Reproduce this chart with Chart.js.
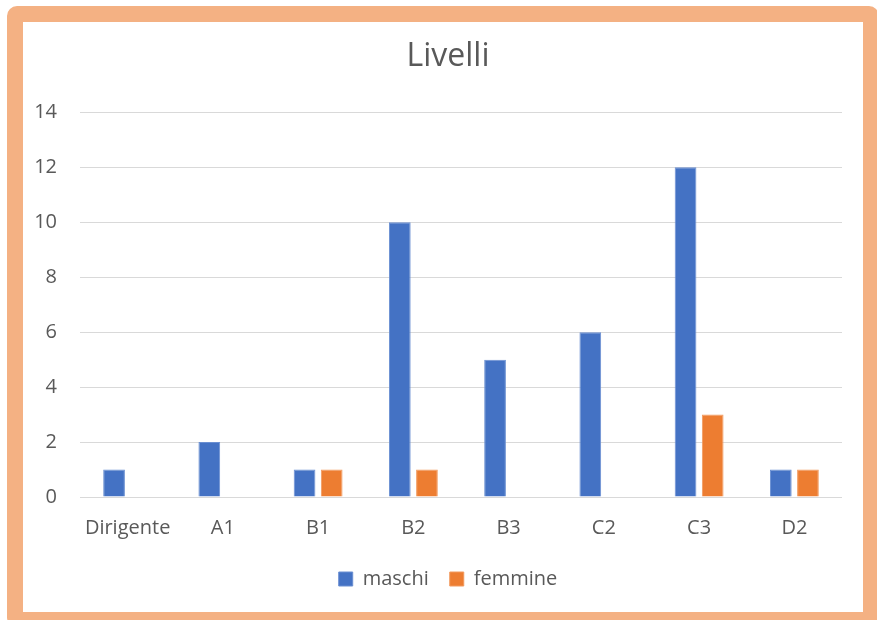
<!DOCTYPE html>
<html>
<head>
<meta charset="utf-8">
<script src="https://cdn.jsdelivr.net/npm/chart.js@4"></script>
<style>
	html, body { margin: 0; padding: 0; background: #fff; overflow: hidden; }
	#frame {
		position: absolute; left: 7px; top: 6px;
		width: 840px; height: 590px;
		border: 16px solid #F4B183; border-radius: 10px;
		background: #fff;
	}
	#frame canvas { display: block; }
</style>
</head>
<body>
<div id="frame"><canvas id="livelliChart" width="840" height="590"></canvas></div>
<script>
var categories = ['Dirigente', 'A1', 'B1', 'B2', 'B3', 'C2', 'C3', 'D2'];
var maschi = [1, 2, 1, 10, 5, 6, 12, 1];
var femmine = [0, 0, 1, 1, 0, 0, 3, 1];
var yTicks = [0, 2, 4, 6, 8, 10, 12, 14];

var textColor = '#595959',
	gridColor = '#D9D9D9',
	font = 'Open Sans';

var ctx = document.getElementById('livelliChart').getContext('2d');

new Chart(ctx, {
	type: 'bar',
	data: {
		labels: categories,
		datasets: [{
			label: 'maschi',
			data: maschi,
			backgroundColor: '#4472C4',
			borderColor: '#6A8FD2',
			borderWidth: 1,
			barPercentage: 0.8,
			categoryPercentage: 0.57
		}, {
			label: 'femmine',
			data: femmine,
			backgroundColor: '#ED7D31',
			borderColor: '#F29A5E',
			borderWidth: 1,
			barPercentage: 0.8,
			categoryPercentage: 0.57
		}]
	},
	options: {
		responsive: false,
		animation: false,
		layout: { padding: { left: 10, right: 0, top: 0, bottom: 13 } },
		plugins: {
			title: {
				display: true,
				text: 'Livelli',
				color: textColor,
				font: { family: font, size: 32, weight: 'normal' },
				padding: { top: 16, bottom: 36 }
			},
			legend: {
				position: 'bottom',
				labels: {
					color: textColor,
					font: { family: font, size: 20 },
					boxWidth: 14,
					boxHeight: 14,
					padding: 21
				}
			},
			tooltip: { enabled: false }
		},
		scales: {
			x: {
				grid: { display: false, drawTicks: false },
				border: { display: false },
				ticks: { color: textColor, font: { family: font, size: 20 }, padding: 19 },
				afterFit: function(scale) { scale.height = 51; }
			},
			y: {
				min: 0,
				max: 14,
				afterBuildTicks: function(scale) {
					scale.ticks = yTicks.map(function(v) { return { value: v }; });
				},
				grid: { color: gridColor, lineWidth: 1, drawTicks: false },
				border: { display: false },
				ticks: { color: textColor, font: { family: font, size: 20 }, padding: 23 },
				afterFit: function(scale) { scale.width = 47; }
			},
			// empty right-hand axis, only there to keep the plot off the right edge
			spacer: {
				type: 'linear',
				position: 'right',
				grid: { display: false, drawTicks: false },
				border: { display: false },
				ticks: { display: false },
				afterFit: function(scale) { scale.width = 21; }
			}
		}
	}
});
</script>
</body>
</html>
